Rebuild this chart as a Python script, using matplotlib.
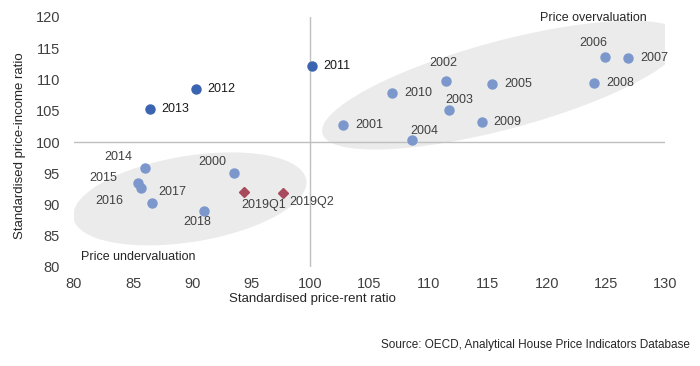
#%%
# OECD house price chart: price-rent vs price-income, standardised
import matplotlib
matplotlib.use('Agg')
import matplotlib.pyplot as plt
import matplotlib.transforms as mtransforms
from matplotlib.patches import Ellipse

plt.rcParams['font.family'] = ['Liberation Sans', 'DejaVu Sans']

# %%
# data
years = ['2000', '2001', '2002', '2003', '2004', '2005', '2006', '2007', '2008', '2009',
         '2010', '2014', '2015', '2016', '2017', '2018']
price_rent = [93.5, 102.8, 111.5, 111.75, 108.6, 115.4, 124.9, 126.9, 124.0, 114.5,
              106.9, 86.0, 85.4, 85.65, 86.6, 91.0]
price_income = [95.0, 102.8, 109.7, 105.1, 100.3, 109.3, 113.6, 113.5, 109.5, 103.2,
                107.9, 95.9, 93.5, 92.7, 90.3, 88.9]

dark_years = ['2011', '2012', '2013']
dark_rent = [100.1, 90.3, 86.4]
dark_income = [112.1, 108.5, 105.3]

q_labels = ['2019Q1', '2019Q2']
q_rent = [94.35, 97.7]
q_income = [92.0, 91.9]

x_ticks = list(range(80, 131, 5))
y_ticks = list(range(80, 121, 5))

# label placement (offset in pixels, alignment)
offsets = {
    '2002': (-3, 18, 'center'), '2003': (10, 10, 'center'), '2004': (12, 9, 'center'),
    '2006': (-11, 14, 'center'), '2014': (-27, 11, 'center'), '2015': (-35, 5, 'center'),
    '2016': (-31, -13, 'center'), '2017': (20, 11, 'center'), '2018': (-7, -11, 'center'),
    '2000': (-21, 11, 'center'), '2019Q1': (20, -13, 'center'), '2019Q2': (28, -9, 'center'),
}

# %%
fig = plt.figure(figsize=(7, 3.66), dpi=100)
ax = fig.add_axes([74 / 700, 99 / 366, 591 / 700, 250 / 366])
ax.set_xlim(80, 130)
ax.set_ylim(80, 120)
for s in ax.spines.values():
    s.set_visible(False)

# shaded ellipses, sized in pixels, centred in data units
def blob(cx, cy, a, b, ang):
    tr = fig.dpi_scale_trans + mtransforms.ScaledTranslation(cx, cy, ax.transData)
    ax.add_patch(Ellipse((0, 0), 2 * a / 100, 2 * b / 100, angle=ang, transform=tr,
                         facecolor='#ebebeb', edgecolor='none', zorder=0))

blob(116.3, 109.1, 187, 44, 15)
blob(89.8, 90.9, 118, 43, 9.3)

ax.axhline(100, color='#bfbfbf', lw=1, zorder=1)
ax.axvline(100, color='#bfbfbf', lw=1, zorder=1)

ax.plot(price_rent, price_income, 'o', color='#7b97cc', ms=6.5, zorder=3)
ax.plot(dark_rent, dark_income, 'o', color='#3a64b0', ms=6.5, zorder=3)
ax.plot(q_rent, q_income, 'D', color='#a84a5c', ms=5.5, zorder=3)

def label(names, xs, ys, color):
    for n, x, y in zip(names, xs, ys):
        dx, dy, ha = offsets.get(n, (12, 0, 'left'))
        ax.annotate(n, (x, y), xytext=(dx, dy), textcoords='offset pixels',
                    ha=ha, va='center', fontsize=9, color=color, zorder=4)

label(years, price_rent, price_income, '#404040')
label(dark_years, dark_rent, dark_income, '#1a1a1a')
label(q_labels, q_rent, q_income, '#404040')

fig.text(593 / 700, 1 - 18 / 366, 'Price overvaluation', fontsize=9, color='#262626',
         ha='center', va='center')
fig.text(138 / 700, 1 - 257 / 366, 'Price undervaluation', fontsize=9,
         color='#262626', ha='center', va='center')

ax.set_xticks(x_ticks)
ax.set_yticks(y_ticks)
ax.tick_params(length=0, labelsize=10.5, colors='#404040')
ax.tick_params(axis='x', pad=7)
ax.tick_params(axis='y', pad=10)

fig.text(312 / 700, 1 - 299 / 366, 'Standardised price-rent ratio', ha='center',
         va='center', fontsize=9.5, color='#262626')
fig.text(20 / 700, 1 - 146 / 366, 'Standardised price-income ratio', rotation=90,
         ha='center', va='center', fontsize=9.5, color='#262626')
fig.text(690 / 700, 1 - 345 / 366, 'Source: OECD, Analytical House Price Indicators Database',
         ha='right', va='center', fontsize=8.5, color='#262626')

fig.savefig('out.png', dpi=100)
